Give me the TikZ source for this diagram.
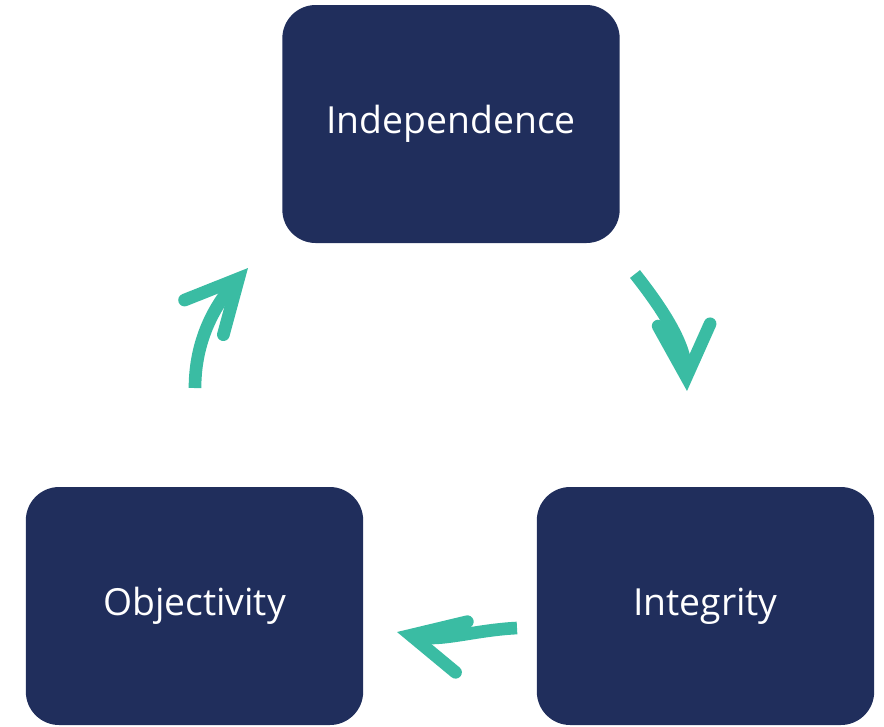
\documentclass[tikz,border=0pt]{standalone}
\usepackage{fontspec}
\setmainfont{Open Sans}
\usepackage{xcolor}
\definecolor{valuenavy}{RGB}{32, 46, 92}
\definecolor{cycleteal}{RGB}{58, 188, 163}
\usetikzlibrary{arrows.meta, positioning}

\begin{document}
\begin{tikzpicture}[x=0.75pt, y=-0.75pt,
    valuebox/.style={rectangle, rounded corners=25pt, fill=valuenavy, text=white,
      minimum width=253pt, minimum height=178.5pt, inner sep=0pt, font=\fontsize{28}{32}\selectfont},
    cyclearrow/.style={line width=9.5pt, cycleteal,
      -{Straight Barb[length=39pt, width=39pt, line cap=round, line join=miter]}}
  ]
  \useasboundingbox (0,0) rectangle (884,726);

  % the three values
  \node[valuebox] (indep) at (451,124) {Independence};
  \node[valuebox] (object) at (194.5,606) {Objectivity};
  \node[valuebox] (integ) at (705.5,606) {Integrity};

  % ends of the cycle arrows
  \coordinate (a1) at (195,388);
  \coordinate (a2) at (248,268);
  \coordinate (b1) at (635,274);
  \coordinate (b2) at (687,391);
  \coordinate (c1) at (517,628);
  \coordinate (c2) at (397,632);

  % clockwise cycle
  \draw[cyclearrow] (a1) .. controls (195,340) and (215,305) .. (a2);
  \draw[cyclearrow] (b1) .. controls (665,312) and (685,345) .. (b2);
  \draw[cyclearrow] (c1) .. controls (475,630) and (440,642) .. (c2);

\end{tikzpicture}
\end{document}
